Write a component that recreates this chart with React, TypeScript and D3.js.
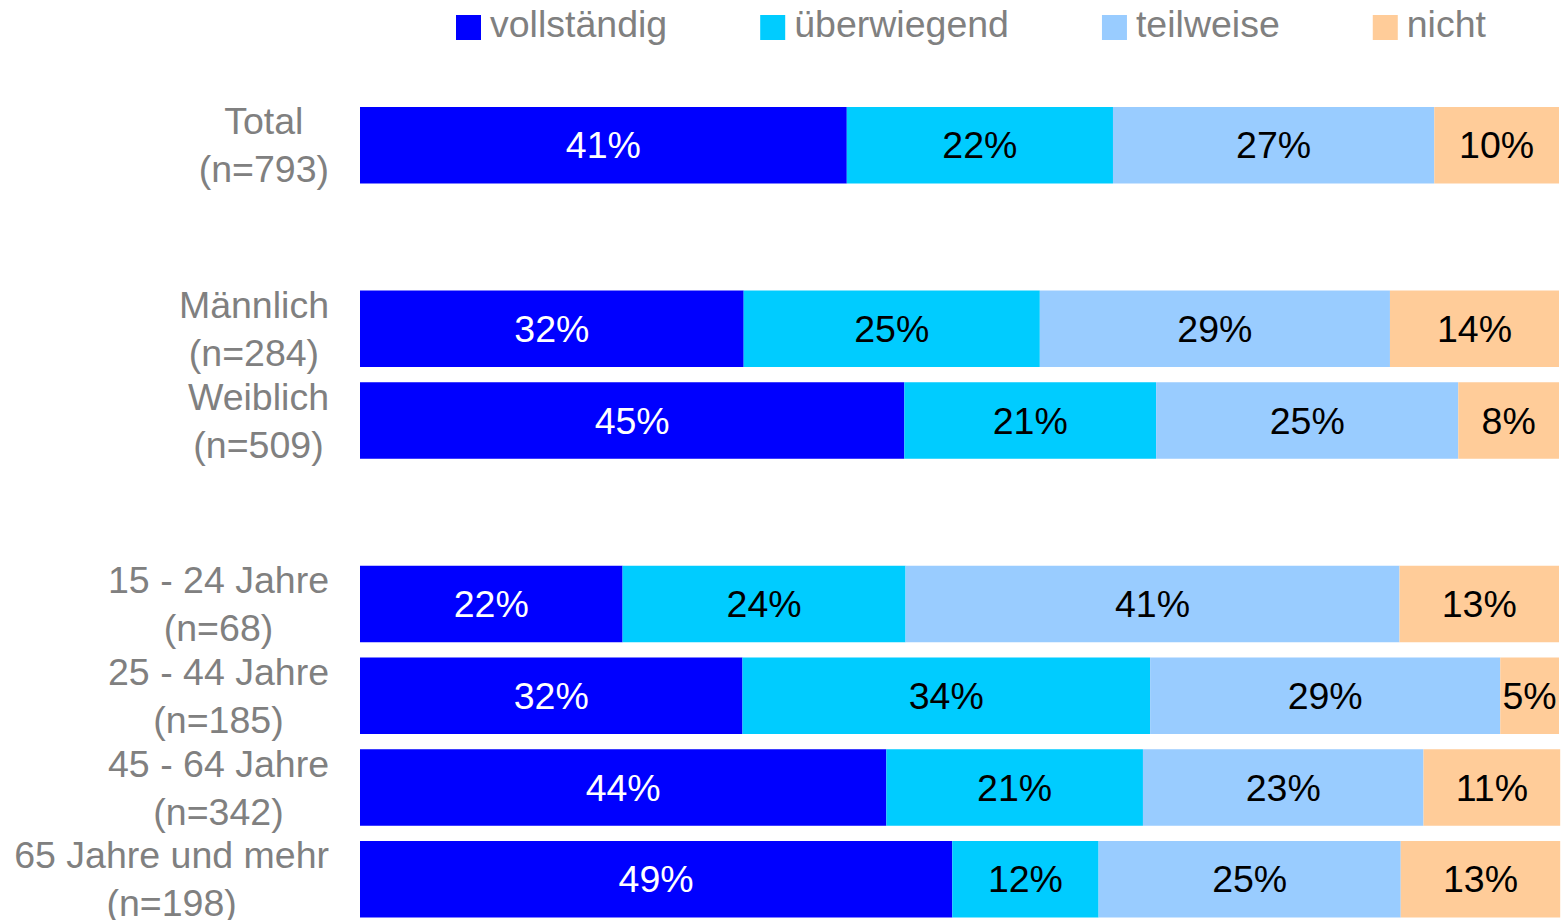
import React, { useEffect, useRef } from 'react';
import * as d3 from 'd3';

// rows of the chart, gaps are empty slots in the band scale
const rowKeys = ['total', 'gap1', 'm', 'w', 'gap2', 'a1', 'a2', 'a3', 'a4'];
const rowLabels = ['Total', '', 'Männlich', 'Weiblich', '', '15 - 24 Jahre', '25 - 44 Jahre', '45 - 64 Jahre', '65 Jahre und mehr'];
const rowN = ['(n=793)', '', '(n=284)', '(n=509)', '', '(n=68)', '(n=185)', '(n=342)', '(n=198)'];

const seriesNames = ['vollständig', 'überwiegend', 'teilweise', 'nicht'];
const seriesColors = ['#0000FF', '#00CCFF', '#99CCFF', '#FFCC99'];
const labelColors = ['#FFFFFF', '#000000', '#000000', '#000000'];

// percentages per row (null = gap row)
const vollstaendig = [40.6, null, 32.0, 45.4, null, 21.9, 31.9, 43.9, 49.4];
const ueberwiegend = [22.2, null, 24.7, 21.0, null, 23.6, 34.0, 21.4, 12.2];
const teilweise = [26.8, null, 29.2, 25.2, null, 41.2, 29.2, 23.4, 25.2];
const nicht = [10.4, null, 14.1, 8.4, null, 13.3, 4.9, 11.4, 13.3];

const FONT = '"Liberation Sans", Arial, Helvetica, sans-serif';
const FS = 37.5;
const GREY = '#808080';

const App = () => {
  const ref = useRef<SVGSVGElement | null>(null);

  useEffect(() => {
    document.body.style.margin = '0';
    const width = 1567;
    const height = 920;
    const svg = d3.select(ref.current);
    svg.selectAll('*').remove();

    const x = d3.scaleLinear().domain([0, 100]).range([360, 1559]);
    const step = 91.75;
    const pad = 15.25;
    const y = d3.scaleBand<string>()
      .domain(rowKeys)
      .range([107, 107 + step * rowKeys.length - pad])
      .paddingInner(pad / step)
      .paddingOuter(0);

    const series = [vollstaendig, ueberwiegend, teilweise, nicht];

    // bars
    const rows = rowKeys.map((k, i) => {
      let acc = 0;
      const segs = series.map((s, j) => {
        const v = s[i];
        const seg = { key: k, j, v, x0: acc, x1: acc + (v ?? 0) };
        acc += v ?? 0;
        return seg;
      });
      return { key: k, segs };
    }).filter((r, i) => vollstaendig[i] !== null);

    const g = svg.append('g');
    const rowG = g.selectAll('.row')
      .data(rows)
      .enter()
      .append('g')
      .attr('class', 'row');

    rowG.selectAll('rect')
      .data(d => d.segs)
      .enter()
      .append('rect')
      .attr('x', d => x(d.x0))
      .attr('y', d => y(d.key)!)
      .attr('width', d => x(d.x1) - x(d.x0))
      .attr('height', y.bandwidth())
      .attr('fill', d => seriesColors[d.j]);

    rowG.selectAll('text')
      .data(d => d.segs)
      .enter()
      .append('text')
      .attr('x', d => (x(d.x0) + x(d.x1)) / 2)
      .attr('y', d => y(d.key)! + y.bandwidth() / 2)
      .attr('dy', '0.35em')
      .attr('text-anchor', 'middle')
      .style('font-family', FONT)
      .style('font-size', FS + 'px')
      .attr('fill', d => labelColors[d.j])
      .text(d => Math.round(d.v as number) + '%');

    // category labels: two lines centred on each other, widest line ends at 329
    const labelRight = 329;
    const lineGap = 48;
    rowKeys.forEach((k, i) => {
      if (!rowLabels[i]) return;
      const cy = y(k)! + y.bandwidth() / 2;
      const t = g.append('g');
      const lines = [rowLabels[i], rowN[i]];
      const texts = lines.map((line, li) =>
        t.append('text')
          .attr('y', cy + (li - 0.5) * lineGap)
          .attr('dy', '0.35em')
          .attr('text-anchor', 'middle')
          .style('font-family', FONT)
          .style('font-size', FS + 'px')
          .attr('fill', GREY)
          .text(line)
      );
      const maxW = d3.max(texts, tx => (tx.node() as SVGTextElement).getComputedTextLength()) ?? 0;
      texts.forEach(tx => tx.attr('x', labelRight - maxW / 2));
    });

    // legend
    const legend = g.append('g');
    let lx = 456;
    seriesNames.forEach((name, i) => {
      legend.append('rect')
        .attr('x', lx)
        .attr('y', 15)
        .attr('width', 25)
        .attr('height', 25)
        .attr('fill', seriesColors[i]);
      const txt = legend.append('text')
        .attr('x', lx + 34)
        .attr('y', 37)
        .style('font-family', FONT)
        .style('font-size', FS + 'px')
        .attr('fill', GREY)
        .text(name);
      const w = (txt.node() as SVGTextElement).getComputedTextLength();
      lx = lx + 34 + w + 93;
    });

    svg.attr('width', width).attr('height', height);
  }, []);

  return <svg ref={ref} width={1567} height={920} style={{ display: 'block', background: '#fff' }} />;
};

export default App;
